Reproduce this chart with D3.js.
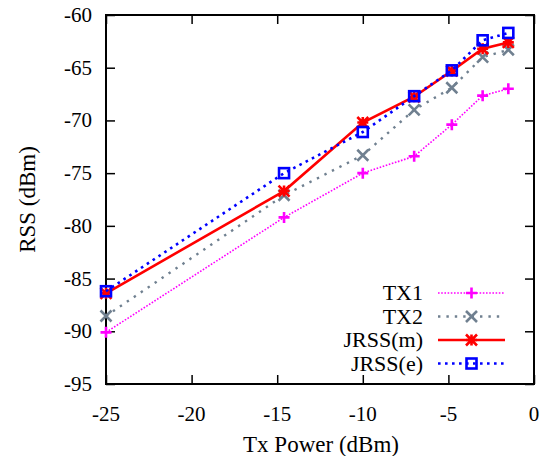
<!DOCTYPE html>
<html><head><meta charset="utf-8">
<script src="https://cdn.jsdelivr.net/npm/d3@7"></script>
</head><body style="margin:0"><svg id="c" width="546" height="456"></svg>
<script>
const xVals = [-25, -14.6, -10, -7, -4.8, -3, -1.5];
const tx1 = [-90.1, -79.2, -75.0, -73.4, -70.4, -67.65, -67.0];
const tx2 = [-88.55, -77.1, -73.3, -69.0, -66.9, -64.0, -63.3];
const jrssM = [-86.4, -76.7, -70.2, -67.75, -65.3, -63.2, -62.6];
const jrssE = [-86.2, -75.0, -71.1, -67.7, -65.25, -62.4, -61.7];
const seriesNames = ["TX1", "TX2", "JRSS(m)", "JRSS(e)"];
const xTicks = [-25, -20, -15, -10, -5, 0];
const yTicks = [-60, -65, -70, -75, -80, -85, -90, -95];

const svg = d3.select("#c");
const L = 106, R = 534, T = 15, B = 384;
const x = d3.scaleLinear().domain([-25, 0]).range([L, R]);
const y = d3.scaleLinear().domain([-95, -60]).range([B, T]);

const styles = [
  {color: "#ff00ff", width: 1.6, dash: "1.6,1.6", marker: "plus"},
  {color: "#708090", width: 2.4, dash: "2.4,6", marker: "cross"},
  {color: "#ff0000", width: 2.6, dash: null, marker: "star"},
  {color: "#0000ff", width: 2.6, dash: "2.6,4.4", marker: "square"}
];
const data = [tx1, tx2, jrssM, jrssE];

const tickFs = 21, legFs = 22, titleFs = 23;
const tickLen = 9;
const fmt = d => String(d);
function addText(sel) { return sel.attr("font-family", `"Liberation Serif"`).attr("fill", "#000"); }

function lines(g) {
  g.select(".domain").remove();
  g.selectAll("text").remove();
  g.attr("font-family", null).attr("font-size", null);
  g.selectAll("line").attr("stroke", "#000").attr("stroke-width", 1.5);
}
svg.append("g").attr("transform", `translate(0,${B})`).call(d3.axisBottom(x).tickValues(xTicks).tickSize(-tickLen)).call(lines);
svg.append("g").attr("transform", `translate(0,${T})`).call(d3.axisTop(x).tickValues(xTicks).tickSize(-tickLen)).call(lines);
svg.append("g").attr("transform", `translate(${L},0)`).call(d3.axisLeft(y).tickValues(yTicks).tickSize(-tickLen)).call(lines);
svg.append("g").attr("transform", `translate(${R},0)`).call(d3.axisRight(y).tickValues(yTicks).tickSize(-tickLen)).call(lines);
svg.append("rect").attr("x", L).attr("y", T).attr("width", R - L).attr("height", B - T)
  .attr("fill", "none").attr("stroke", "#000").attr("stroke-width", 2);

xTicks.forEach(d => addText(svg.append("text")).attr("x", x(d)).attr("y", 421).attr("text-anchor", "middle")
  .attr("font-size", tickFs).text(fmt(d)));
yTicks.forEach(d => addText(svg.append("text")).attr("x", 92).attr("y", y(d) + 7).attr("text-anchor", "end")
  .attr("font-size", tickFs).text(fmt(d)));

addText(svg.append("text")).attr("x", 321).attr("y", 452).attr("text-anchor", "middle")
  .attr("font-size", titleFs).text("Tx Power (dBm)");
addText(svg.append("text")).attr("transform", `translate(35,${(T + B) / 2}) rotate(-90)`).attr("text-anchor", "middle")
  .attr("font-size", titleFs).text("RSS (dBm)");

function drawMarker(g, type, cx, cy, color) {
  const s = 5.5;
  let d;
  if (type === "plus") d = `M${cx - s},${cy}H${cx + s}M${cx},${cy - s}V${cy + s}`;
  else if (type === "cross") d = `M${cx - s},${cy - s}L${cx + s},${cy + s}M${cx - s},${cy + s}L${cx + s},${cy - s}`;
  else if (type === "star") d = `M${cx - s},${cy}H${cx + s}M${cx},${cy - s}V${cy + s}M${cx - s},${cy - s}L${cx + s},${cy + s}M${cx - s},${cy + s}L${cx + s},${cy - s}`;
  if (d) {
    g.append("path").attr("d", d).attr("stroke", color).attr("stroke-width", 2.6).attr("fill", "none");
  } else {
    g.append("rect").attr("x", cx - 5).attr("y", cy - 5).attr("width", 10).attr("height", 10)
      .attr("stroke", color).attr("stroke-width", 2.6).attr("fill", "none");
  }
}

const line = d3.line().x(d => x(d[0])).y(d => y(d[1]));
data.forEach((vals, i) => {
  const st = styles[i];
  const pts = xVals.map((xv, j) => [xv, vals[j]]);
  const g = svg.append("g");
  g.append("path").datum(pts).attr("d", line).attr("fill", "none")
    .attr("stroke", st.color).attr("stroke-width", st.width)
    .attr("stroke-dasharray", st.dash);
  pts.forEach(p => drawMarker(g, st.marker, x(p[0]), y(p[1]), st.color));
});

const legY = [293, 316.5, 340, 363.5];
seriesNames.forEach((name, i) => {
  const st = styles[i];
  addText(svg.append("text")).attr("x", 423).attr("y", legY[i] + 7).attr("text-anchor", "end")
    .attr("font-size", legFs).text(name);
  const g = svg.append("g");
  g.append("line").attr("x1", 438).attr("x2", 505).attr("y1", legY[i]).attr("y2", legY[i])
    .attr("stroke", st.color).attr("stroke-width", st.width).attr("stroke-dasharray", st.dash);
  drawMarker(g, st.marker, 471.5, legY[i], st.color);
});
</script></body></html>
